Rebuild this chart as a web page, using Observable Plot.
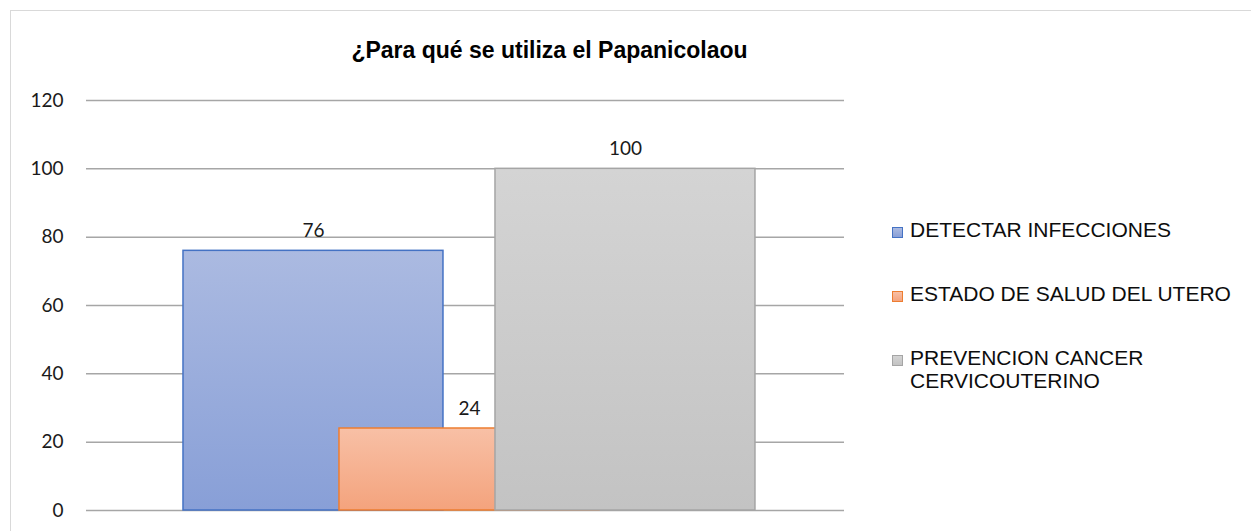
<!DOCTYPE html>
<html>
<head>
<meta charset="utf-8">
<script src="https://cdn.jsdelivr.net/npm/d3@7"></script>
<script src="https://cdn.jsdelivr.net/npm/@observablehq/plot@0.6"></script>
<style>
  html, body { margin: 0; padding: 0; background: #fff; width: 1251px; height: 531px; overflow: hidden; }
  #wrap { position: relative; width: 1251px; height: 531px; }
  #frame { position: absolute; left: 10px; top: 10px; width: 1300px; height: 600px; border: 1.5px solid #d9d9d9; box-sizing: border-box; }
  #chart { position: absolute; left: 0; top: 0; }
  #title { position: absolute; left: 0; width: 1099px; top: 38.5px; text-align: center; font: bold 23px/1 "Liberation Sans", Arial, sans-serif; color: #000; white-space: nowrap; }
  .lg { position: absolute; left: 892px; width: 360px; font: 21px/23.5px "Liberation Sans", Arial, sans-serif; color: #0d0d0d; }
  .lg .sw { position: absolute; left: 0; top: 9px; width: 11px; height: 11px; box-sizing: border-box; border: 1.5px solid; }
  .lg .tx { margin-left: 18px; width: 330px; }
</style>
</head>
<body>
<div id="wrap">
  <div id="frame"></div>
  <div id="chart"></div>
  <div id="title"></div>
  <div id="legend"></div>
</div>
<script>
const title = "¿Para qué se utiliza el Papanicolaou";
const categories = ["DETECTAR INFECCIONES", "ESTADO DE SALUD DEL UTERO", "PREVENCION CANCER CERVICOUTERINO"];
const values = [76, 24, 100];
const yTicks = [0, 20, 40, 60, 80, 100, 120];
const fillTop = ["#abbae1", "#f8c0a6", "#d4d4d4"];
const fillBottom = ["#889fd7", "#f4a37d", "#c3c3c3"];
const borders = ["#4472c4", "#ed7d31", "#a5a5a5"];

const table = categories.map((c, i) => ({category: c, value: values[i], idx: i}));
const half = 0.8333;

const barMarks = table.map((d, i) => Plot.rectY([d], {
  x1: r => r.idx - half,
  x2: r => r.idx + half,
  y1: 0,
  y2: "value",
  fill: `url(#grad${i})`,
  stroke: borders[i],
  strokeWidth: 1.5
}));

const plot = Plot.plot({
  width: 1251,
  height: 531,
  marginLeft: 86,
  marginRight: 407,
  marginTop: 100,
  marginBottom: 21,
  style: {background: "transparent", overflow: "visible"},
  x: {domain: [-1.455, 3.404], axis: null},
  y: {domain: [0, 120], ticks: yTicks, label: null},
  marks: [
    Plot.ruleY(yTicks, {stroke: "#a6a6a6", strokeWidth: 1.5}),
    Plot.axisY({ticks: yTicks, tickSize: 0, tickPadding: 23, fontSize: 19, fontFamily: "Lato, 'Open Sans', sans-serif", fill: "#1a1a1a", label: null}),
    ...barMarks,
    Plot.text(table, {
      x: "idx",
      y: "value",
      text: d => String(d.value),
      lineAnchor: "bottom",
      dy: -14,
      fontSize: 19,
      fontFamily: "Lato, 'Open Sans', sans-serif",
      fill: "#1a1a1a"
    })
  ]
});

const svg = d3.select(plot);
const defs = svg.insert("defs", ":first-child");
categories.forEach((c, i) => {
  const g = defs.append("linearGradient").attr("id", `grad${i}`).attr("x1", 0).attr("y1", 0).attr("x2", 0).attr("y2", 1);
  g.append("stop").attr("offset", "0%").attr("stop-color", fillTop[i]);
  g.append("stop").attr("offset", "100%").attr("stop-color", fillBottom[i]);
});
document.getElementById("chart").appendChild(plot);

document.getElementById("title").textContent = title;

const legend = document.getElementById("legend");
categories.forEach((c, i) => {
  const row = document.createElement("div");
  row.className = "lg";
  row.style.top = (217.7 + 64 * i) + "px";
  const sw = document.createElement("div");
  sw.className = "sw";
  sw.style.borderColor = borders[i];
  sw.style.background = `linear-gradient(${fillTop[i]}, ${fillBottom[i]})`;
  const tx = document.createElement("div");
  tx.className = "tx";
  tx.textContent = c;
  row.appendChild(sw);
  row.appendChild(tx);
  legend.appendChild(row);
});
</script>
</body>
</html>
